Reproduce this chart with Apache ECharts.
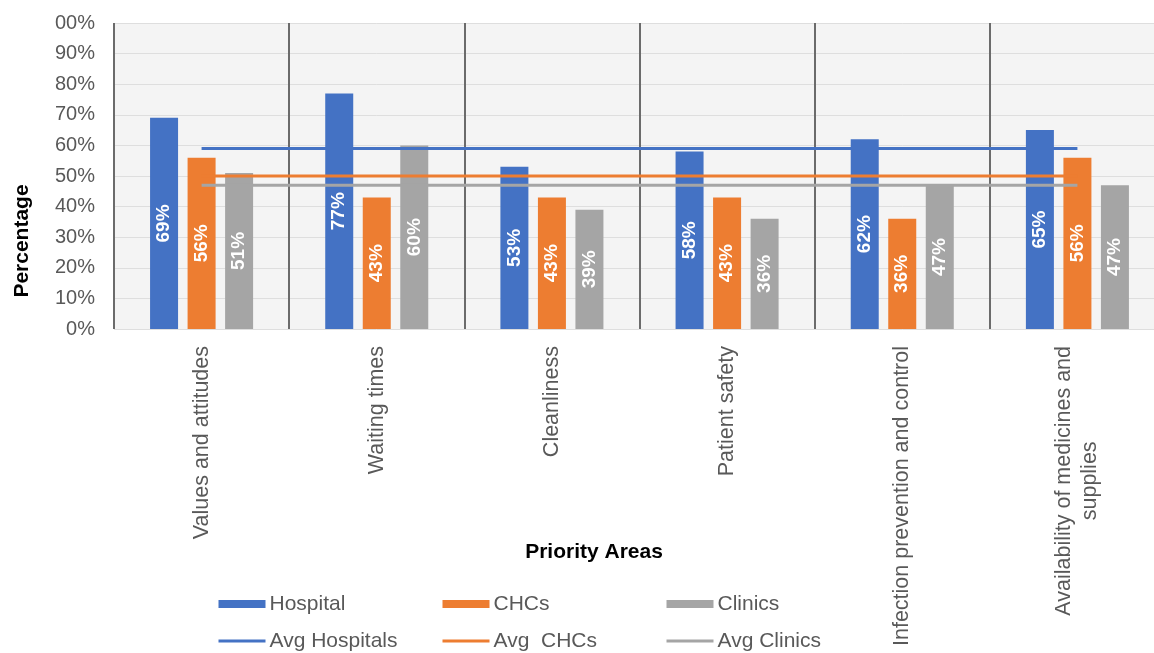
<!DOCTYPE html>
<html>
<head>
<meta charset="utf-8">
<script src="https://cdn.jsdelivr.net/npm/echarts@6/dist/echarts.min.js"></script>
<style>
  html, body { margin: 0; padding: 0; background: #ffffff; overflow: hidden; }
  /* the plot runs a little past the right edge of the window */
  #chart { width: 1165px; height: 653px; }
</style>
</head>
<body>
<div id="chart"></div>
<script>
// Priority areas and the share scored by each facility type
const categories = [
  'Values and attitudes',
  'Waiting times',
  'Cleanliness',
  'Patient safety',
  'Infection prevention and control',
  'Availability of medicines and\nsupplies'
];
const hospital = [69, 77, 53, 58, 62, 65];
const chcs = [56, 43, 43, 43, 36, 56];
const clinics = [51, 60, 39, 36, 47, 47];

// Averages drawn as flat reference lines across the categories
const avgHospitals = [59, 59, 59, 59, 59, 59];
const avgCHCs = [50, 50, 50, 50, 50, 50];
const avgClinics = [47, 47, 47, 47, 47, 47];

const yTickLabels = ['0%', '10%', '20%', '30%', '40%', '50%', '60%', '70%', '80%', '90%', '00%'];

const BLUE = '#4472C4';
const ORANGE = '#ED7D31';
const GRAY = '#A5A5A5';
const TEXT = '#595959';
const FONT = 'Arial, "Liberation Sans", sans-serif';

const chart = echarts.init(document.getElementById('chart'), null, { renderer: 'canvas' });

const barLabel = {
  show: true,
  position: 'inside',
  rotate: 90,
  formatter: '{c}%',
  color: '#ffffff',
  fontWeight: 'bold',
  fontSize: 19,
  fontFamily: FONT
};

// one legend column: a bar entry above its average line entry
function legendCol(left, barName, lineName) {
  return {
    orient: 'vertical',
    left: left,
    top: 593,
    padding: 0,
    itemWidth: 47,
    itemHeight: 8,
    itemGap: 15,
    selectedMode: false,
    textStyle: { fontSize: 21, color: TEXT, fontFamily: FONT, lineHeight: 22, padding: [0, 0, 0, -1] },
    data: [
      { name: barName, icon: 'rect' },
      { name: lineName, itemStyle: { opacity: 0 }, lineStyle: { width: 3 } }
    ]
  };
}

chart.setOption({
  animation: false,
  textStyle: { fontFamily: FONT },
  grid: {
    left: 114,
    right: 0,
    top: 23,
    bottom: 324,
    show: true,
    backgroundColor: '#f4f4f4',
    borderWidth: 0
  },
  legend: [
    legendCol(217, 'Hospital', 'Avg Hospitals'),
    legendCol(441, 'CHCs', 'Avg  CHCs'),
    legendCol(665, 'Clinics', 'Avg Clinics')
  ],
  xAxis: {
    type: 'category',
    data: categories,
    boundaryGap: true,
    axisLine: { show: false },
    axisTick: { show: false },
    splitLine: { show: true, lineStyle: { color: '#6b6b6b', width: 2 } },
    axisLabel: {
      rotate: 90,
      margin: 17,
      fontSize: 21.5,
      color: TEXT,
      interval: 0,
      formatter: function (v) {
        if (v.indexOf('\n') < 0) return v;
        return v.split('\n').map(function (s) { return '{c|' + s + '}'; }).join('\n');
      },
      rich: {
        c: { align: 'center', fontSize: 21.5, color: TEXT, fontFamily: FONT, lineHeight: 26 }
      }
    }
  },
  yAxis: {
    type: 'value',
    min: 0,
    max: 100,
    interval: 10,
    axisLine: { show: false },
    axisTick: { show: false },
    splitLine: { show: true, lineStyle: { color: '#dedede', width: 1 } },
    axisLabel: {
      margin: 19,
      fontSize: 20,
      color: TEXT,
      formatter: function (v) { return yTickLabels[Math.round(v / 10)]; }
    }
  },
  graphic: [
    {
      type: 'text',
      x: 22,
      y: 241,
      rotation: Math.PI / 2,
      style: {
        text: 'Percentage',
        fontSize: 21,
        fontWeight: 'bold',
        fontFamily: FONT,
        fill: '#000000',
        align: 'center',
        verticalAlign: 'middle'
      }
    },
    {
      type: 'text',
      x: 594,
      y: 552,
      style: {
        text: 'Priority Areas',
        fontSize: 21,
        fontWeight: 'bold',
        fontFamily: FONT,
        fill: '#000000',
        align: 'center',
        verticalAlign: 'middle'
      }
    }
  ],
  series: [
    { name: 'Hospital', type: 'bar', data: hospital, barWidth: 28, barGap: '34%', itemStyle: { color: BLUE }, label: barLabel, z: 2 },
    { name: 'CHCs', type: 'bar', data: chcs, barWidth: 28, barGap: '34%', itemStyle: { color: ORANGE }, label: barLabel, z: 2 },
    { name: 'Clinics', type: 'bar', data: clinics, barWidth: 28, barGap: '34%', itemStyle: { color: GRAY }, label: barLabel, z: 2 },
    { name: 'Avg Hospitals', type: 'line', data: avgHospitals, symbol: 'none', showSymbol: false, lineStyle: { color: BLUE, width: 3 }, itemStyle: { color: BLUE }, z: 5 },
    { name: 'Avg  CHCs', type: 'line', data: avgCHCs, symbol: 'none', showSymbol: false, lineStyle: { color: ORANGE, width: 3 }, itemStyle: { color: ORANGE }, z: 4 },
    { name: 'Avg Clinics', type: 'line', data: avgClinics, symbol: 'none', showSymbol: false, lineStyle: { color: GRAY, width: 3 }, itemStyle: { color: GRAY }, z: 5 }
  ]
});
</script>
</body>
</html>
